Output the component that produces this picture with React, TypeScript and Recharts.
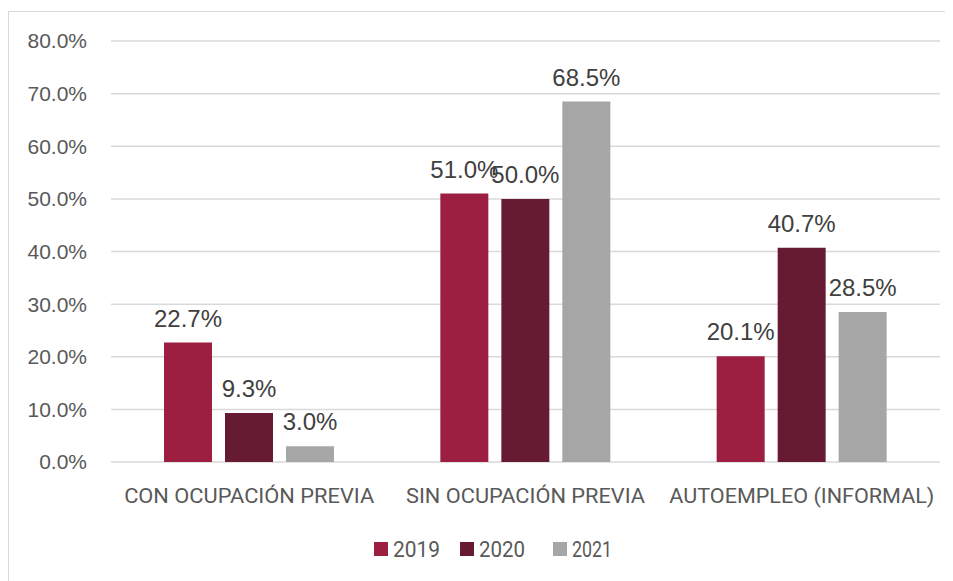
import React from "react";
import { BarChart, Bar, XAxis, YAxis, CartesianGrid, Legend, LabelList } from "recharts";

const categories = ["CON OCUPACIÓN PREVIA", "SIN OCUPACIÓN PREVIA", "AUTOEMPLEO (INFORMAL)"];
const categoryWidths = [250, 239, 265];
const values2019 = [22.7, 51.0, 20.1];
const values2020 = [9.3, 50.0, 40.7];
const values2021 = [3.0, 68.5, 28.5];
const yTicks = [0, 10, 20, 30, 40, 50, 60, 70, 80];
const seriesNames = ["2019", "2020", "2021"];
const seriesColors = ["#9C1F41", "#661B33", "#A6A6A6"];
const legendTextWidths = [47, 46, 40];

const data = categories.map((c, i) => ({
  name: c,
  w: categoryWidths[i],
  s2019: values2019[i],
  s2020: values2020[i],
  s2021: values2021[i],
}));

const W = 945;
const H = 573;

const CatTick = (props: any) => {
  const { x, y, payload, index } = props;
  return (
    <text
      x={x}
      y={y + 41}
      textAnchor="middle"
      fontFamily="Roboto, 'Liberation Sans', sans-serif"
      fontSize={21}
      fill="#595959"
      textLength={categoryWidths[index] ?? undefined}
      lengthAdjust="spacingAndGlyphs"
    >
      {payload.value}
    </text>
  );
};

const LegendContent = () => {
  const starts = [366, 452, 545];
  return (
    <svg width={W} height={40} style={{ display: "block" }}>
      {seriesNames.map((n, i) => (
        <g key={n}>
          <rect x={starts[i]} y={12} width={14} height={14} fill={seriesColors[i]} />
          <text
            x={starts[i] + 19}
            y={27}
            fontFamily="Roboto, 'Liberation Sans', sans-serif"
            fontSize={22}
            fill="#595959"
            textLength={legendTextWidths[i]}
            lengthAdjust="spacingAndGlyphs"
          >
            {n}
          </text>
        </g>
      ))}
    </svg>
  );
};

const fmt = (v: number) => `${Number(v).toFixed(1)}%`;

export default function App() {
  const keys = ["s2019", "s2020", "s2021"];
  return (
    <div style={{ position: "relative", width: W, height: H, overflow: "hidden", background: "#fff" }}>
      <div
        style={{
          position: "absolute",
          left: 0,
          top: 3,
          width: 2000,
          height: 2000,
          borderTop: "1.5px solid #D9D9D9",
          borderLeft: "1.5px solid #D9D9D9",
        }}
      />
      <div style={{ position: "absolute", left: 0, top: 0 }}>
        <BarChart
          width={W}
          height={H}
          data={data}
          margin={{ top: 33, right: 13, left: 0, bottom: 0 }}
          barSize={48}
          barGap={13}
        >
          <CartesianGrid horizontal vertical={false} stroke="#D9D9D9" strokeWidth={1.5} />
          <XAxis
            dataKey="name"
            axisLine={false}
            tickLine={false}
            tickSize={0}
            tickMargin={0}
            height={119}
            interval={0}
            tick={<CatTick />}
          />
          <YAxis
            domain={[0, 80]}
            ticks={yTicks}
            tickFormatter={fmt}
            axisLine={false}
            tickLine={false}
            tickSize={0}
            tickMargin={24}
            width={103}
            interval={0}
            tick={{ fontFamily: "'Liberation Sans', Arial, sans-serif", fontSize: 21, fill: "#595959" }}
          />
          <Legend
            layout="horizontal"
            verticalAlign="middle"
            align="center"
            wrapperStyle={{ position: "absolute", top: 522, left: 0, width: W, height: 40 }}
            content={<LegendContent />}
          />
          {keys.map((k, i) => (
            <Bar key={k} dataKey={k} name={seriesNames[i]} fill={seriesColors[i]} isAnimationActive={false}>
              <LabelList
                dataKey={k}
                position="top"
                offset={16}
                formatter={fmt}
                style={{ fontFamily: "'Liberation Sans', Arial, sans-serif", fontSize: 24, fill: "#404040" }}
              />
            </Bar>
          ))}
        </BarChart>
      </div>
    </div>
  );
}
